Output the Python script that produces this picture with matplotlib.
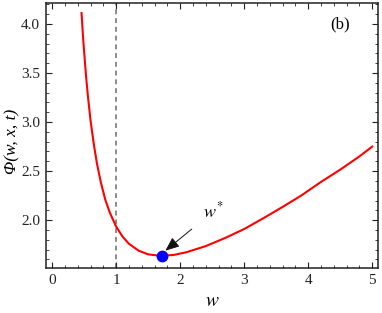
import matplotlib
matplotlib.use("Agg")
import matplotlib.pyplot as plt
from matplotlib.ticker import MultipleLocator

plt.rcParams['font.family'] = ['Liberation Serif', 'DejaVu Serif']
plt.rcParams['mathtext.fontset'] = 'stix'

# Data
w_vals = [0.46, 0.48, 0.50, 0.53, 0.56, 0.60, 0.65, 0.70, 0.76, 0.83, 0.90,
          1.0, 1.1, 1.2, 1.35, 1.5, 1.7, 1.9, 2.1, 2.4, 2.7, 3.0, 3.3, 3.6,
          3.9, 4.2, 4.5, 4.8, 5.0]
phi_vals = [4.11, 3.90, 3.72, 3.47, 3.26, 3.02, 2.78, 2.58, 2.39, 2.21, 2.08,
            1.935, 1.833, 1.760, 1.690, 1.652, 1.636, 1.646, 1.674, 1.736, 1.818,
            1.910, 2.02, 2.135, 2.255, 2.39, 2.515, 2.65, 2.75]
w_star = 1.71
phi_star = 1.636
w_dashed = 1.0
x_ticks = [0, 1, 2, 3, 4, 5]
y_ticks = [2.0, 2.5, 3.0, 3.5, 4.0]

fig = plt.figure(figsize=(3.82, 3.13), dpi=100)
ax = fig.add_axes([0.1196, 0.1438, 0.8699, 0.8457])

ax.axvline(w_dashed, color='#8c8c8c', lw=1.4, ls=(0, (2.5, 2)), zorder=1)
ax.plot(w_vals, phi_vals, color='#ff0000', lw=1.5, zorder=2)
ax.plot([w_star], [phi_star], 'o', color='#0000ff', ms=7.5, zorder=3)

ax.annotate(r'$w^{*}$', xy=(1.77, 1.69), xytext=(2.52, 2.09),
            fontsize=13, ha='center', va='center',
            arrowprops=dict(arrowstyle='-|>,head_length=0.6,head_width=0.25',
                            color='#111111', lw=0.7,
                            shrinkA=8, shrinkB=0, mutation_scale=14))

ax.text(4.5, 3.99, '(b)', fontsize=12, ha='center', va='center')

ax.set_xlim(-0.1, 5.09)
ax.set_ylim(1.513, 4.21)
ax.set_xticks(x_ticks)
ax.set_yticks(y_ticks)
ax.set_yticklabels([f'{v:.1f}' for v in y_ticks])
ax.xaxis.set_minor_locator(MultipleLocator(0.2))
ax.yaxis.set_minor_locator(MultipleLocator(0.1))
ax.tick_params(which='both', direction='in', top=True, right=True,
               labelsize=11, colors='#222222')
ax.tick_params(which='major', length=4, width=0.8, pad=4)
ax.tick_params(which='minor', length=2, width=0.6)
for s in ax.spines.values():
    s.set_linewidth(1.1)
    s.set_color('#222222')

ax.set_xlabel(r'$w$', fontsize=14, va='center')
ax.xaxis.set_label_coords(0.5, -0.128)
ax.set_ylabel('Φ(w, x, t)', fontsize=12.5, va='center', fontstyle='italic')
ax.yaxis.set_label_coords(-0.101, 0.48)

fig.savefig('out.png', dpi=100)
